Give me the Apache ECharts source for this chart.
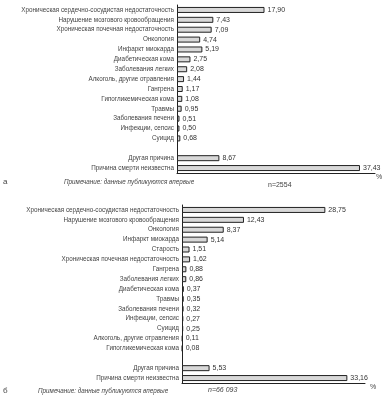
<!DOCTYPE html>
<html><head><meta charset="utf-8">
<script src="https://cdn.jsdelivr.net/npm/echarts@6/dist/echarts.min.js"></script>
<style>html,body{margin:0;padding:0;background:#fff}#c{width:384px;height:400px}</style>
</head><body><div id="c"></div>
<script>
const catsA = ['Хроническая сердечно-сосудистая недостаточность','Нарушение мозгового кровообращения','Хроническая почечная недостаточность','Онкология','Инфаркт миокарда','Диабетическая кома','Заболевания легких','Алкоголь, другие отравления','Гангрена','Гипогликемическая кома','Травмы','Заболевания печени','Инфекции, сепсис','Суицид','','Другая причина','Причина смерти неизвестна'];
const valsA = [17.90,7.43,7.09,4.74,5.19,2.75,2.08,1.44,1.17,1.08,0.95,0.51,0.50,0.68,null,8.67,37.43];
const catsB = ['Хроническая сердечно-сосудистая недостаточность','Нарушение мозгового кровообращения','Онкология','Инфаркт миокарда','Старость','Хроническая почечная недостаточность','Гангрена','Заболевания легких','Диабетическая кома','Травмы','Заболевания печени','Инфекции, сепсис','Суицид','Алкоголь, другие отравления','Гипогликемическая кома','','Другая причина','Причина смерти неизвестна'];
const valsB = [28.75,12.43,8.37,5.14,1.51,1.62,0.88,0.86,0.37,0.35,0.32,0.27,0.25,0.11,0.08,null,5.53,33.16];

const FONT = '"Liberation Sans", Arial, sans-serif';
const fmt = p => p.value == null ? '' : p.value.toFixed(2).replace('.', ',');
const yAx = (cats, gi) => ({
  type: 'category', gridIndex: gi, data: cats, inverse: true,
  axisLine: {show: true, lineStyle: {color: '#222', width: 1}},
  axisTick: {show: false},
  axisLabel: {fontFamily: FONT, fontSize: 6.3, color: '#444', margin: 3}
});
const xAx = (max, gi) => ({
  type: 'value', gridIndex: gi, min: 0, max: max,
  axisLine: {show: true, lineStyle: {color: '#222', width: 1}},
  axisTick: {show: false}, axisLabel: {show: false}, splitLine: {show: false}
});
const ser = (vals, gi) => ({
  type: 'bar', xAxisIndex: gi, yAxisIndex: gi, data: vals, barWidth: 6,
  itemStyle: {color: '#d8d8d8', borderColor: '#222', borderWidth: 1},
  label: {show: true, position: 'right', distance: 3, formatter: fmt,
    fontFamily: FONT, fontSize: 7, color: '#333'},
  silent: true, animation: false
});
const ts = (size, italic) => ({fontFamily: FONT, fontSize: size, color: '#444', fontWeight: 'normal', fontStyle: italic ? 'italic' : 'normal'});
const chart = echarts.init(document.getElementById('c'));
chart.setOption({
  animation: false,
  grid: [
    {left: 177, top: 5, width: 198, height: 168},
    {left: 182, top: 205, width: 183, height: 178}
  ],
  xAxis: [xAx(40.5, 0), xAx(36.7, 1)],
  yAxis: [yAx(catsA, 0), yAx(catsB, 1)],
  series: [ser(valsA, 0), ser(valsB, 1)],
  title: [
    {text: 'а', left: 3, top: 178, padding: 0, textStyle: ts(8)},
    {text: 'Примечание: данные публикуются впервые', left: 64, top: 179, padding: 0, textStyle: ts(6.3, true)},
    {text: 'n=2554', left: 268, top: 182, padding: 0, textStyle: ts(7)},
    {text: '%', left: 376, top: 174, padding: 0, textStyle: ts(7)},
    {text: 'б', left: 3, top: 387, padding: 0, textStyle: ts(8)},
    {text: 'Примечание: данные публикуются впервые', left: 38, top: 388, padding: 0, textStyle: ts(6.3, true)},
    {text: 'n=66 093', left: 208, top: 387, padding: 0, textStyle: ts(7, true)},
    {text: '%', left: 370, top: 384, padding: 0, textStyle: ts(7)}
  ]
});
</script></body></html>
